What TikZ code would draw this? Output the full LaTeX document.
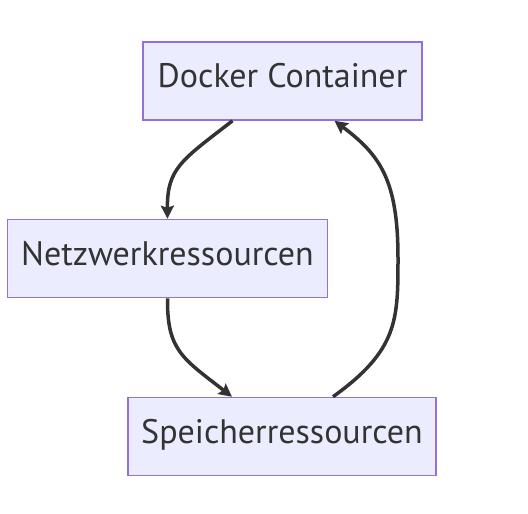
\documentclass[tikz,border=0pt]{standalone}
\usepackage{fontspec}
\setmainfont{PT Sans}
\usetikzlibrary{arrows.meta}
\definecolor{boxfill}{HTML}{ECECFF}
\definecolor{boxline}{HTML}{9370DB}
\definecolor{ink}{HTML}{333333}
\begin{document}
\begin{tikzpicture}
[
    x=1pt, y=-1pt,
    every node/.style={shape=rectangle, draw=boxline, fill=boxfill, line width=1.5pt, minimum height=78pt, text height=24pt, text depth=11pt, text=ink, font=\fontsize{34}{40}\selectfont},
    flow/.style={draw=ink, line width=3.5pt, -{Stealth[length=13pt, width=13pt, inset=2pt]}},
]
\useasboundingbox (0,0) rectangle (528,514);

\node(docker) at (282.5,81) [minimum width=279pt]{Docker Container};
\node(netz) at (167.5,258.5) [minimum width=320pt]{Netzwerkressourcen};
\node(speicher) at (282,436.5) [minimum width=308pt]{Speicherressourcen};

\draw[flow] ([xshift=-50pt]docker.south) .. controls (182,160) and (167,168) .. (netz.north);
\draw[flow] (netz.south) .. controls (167,350) and (182,358) .. ([xshift=-50pt]speicher.north);
\draw[flow] ([xshift=51pt]speicher.north) .. controls (398,350) and (398,320) .. (398,258) .. controls (398,180) and (380,155) .. ([xshift=52pt]docker.south);

\end{tikzpicture}
\end{document}
